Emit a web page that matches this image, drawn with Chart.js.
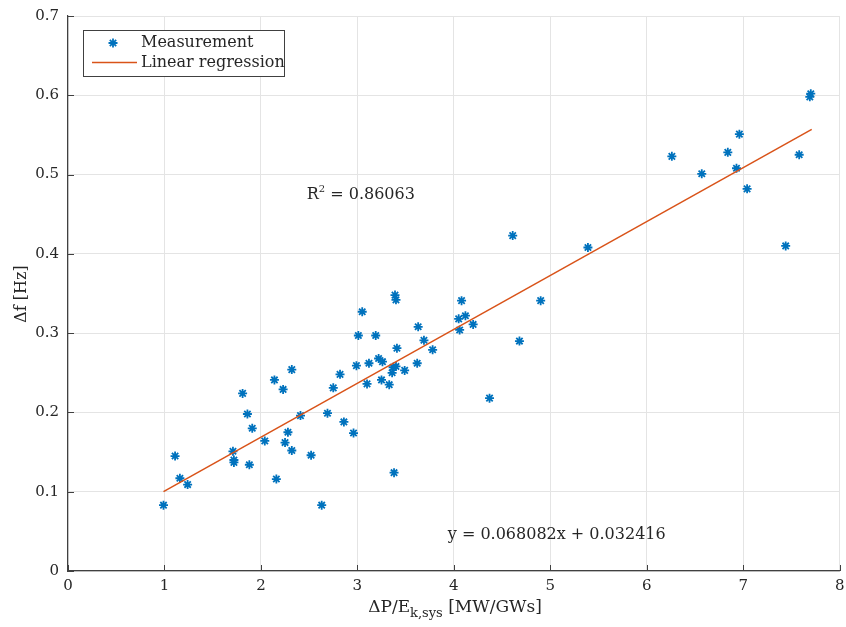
<!DOCTYPE html>
<html>
<head>
<meta charset="utf-8">
<script src="https://cdn.jsdelivr.net/npm/chart.js@4.4.1/dist/chart.umd.min.js"></script>
<style>
  body { margin: 0; background: #fff; }
  #chartContainer { width: 846px; height: 627px; }
</style>
</head>
<body>
<div id="chartContainer"><canvas id="freqChart" width="846" height="627"></canvas></div>
<script>
const measX = [0.99, 1.11, 1.16, 1.24, 1.71, 1.72, 1.72, 1.81, 1.86, 1.88, 1.91, 2.04, 2.14, 2.16, 2.23,
    2.25, 2.28, 2.32, 2.32, 2.41, 2.52, 2.63, 2.69, 2.75, 2.82, 2.86, 2.96, 2.99, 3.01, 3.05,
    3.10, 3.12, 3.19, 3.22, 3.25, 3.26, 3.33, 3.37, 3.36, 3.38, 3.39, 3.40, 3.40, 3.41, 3.49,
    3.62, 3.63, 3.69, 3.78, 4.05, 4.06, 4.08, 4.12, 4.20, 4.37, 4.61, 4.68, 4.90, 5.39, 6.26,
    6.57, 6.84, 6.93, 6.96, 7.04, 7.44, 7.58, 7.69, 7.70];
const measY = [0.083, 0.145, 0.117, 0.109, 0.151, 0.140, 0.137, 0.224, 0.198, 0.134, 0.180, 0.164, 0.241, 0.116, 0.229,
    0.162, 0.175, 0.254, 0.152, 0.196, 0.146, 0.083, 0.199, 0.231, 0.248, 0.188, 0.174, 0.259, 0.297, 0.327,
    0.236, 0.262, 0.297, 0.268, 0.241, 0.264, 0.235, 0.257, 0.250, 0.124, 0.348, 0.342, 0.258, 0.281, 0.253,
    0.262, 0.308, 0.291, 0.279, 0.318, 0.304, 0.341, 0.322, 0.311, 0.218, 0.423, 0.290, 0.341, 0.408, 0.523,
    0.501, 0.528, 0.508, 0.551, 0.482, 0.410, 0.525, 0.598, 0.602];

// Regression line end points
const fitX = [0.99, 7.71];
const fitY = [0.100, 0.557];

const xTicks = [0, 1, 2, 3, 4, 5, 6, 7, 8];
const yTicks = [0, 0.1, 0.2, 0.3, 0.4, 0.5, 0.6, 0.7];
const yTickLabels = ["0", "0.1", "0.2", "0.3", "0.4", "0.5", "0.6", "0.7"];

const rSquared = "0.86063";
const fitEquation = "y = 0.068082x + 0.032416";

const serif = '"DejaVu Serif", "Liberation Serif", serif';
const blue = "#0072BD";
const orange = "#D95319";
const textColor = "#262626";

Chart.defaults.font.family = serif;

// Extra drawing: inward ticks, titles, legend box and text notes
const extrasPlugin = {
    id: "extras",
    afterDraw(chart) {
        const ctx = chart.ctx;
        const area = chart.chartArea;
        const xs = chart.scales.x;
        const ys = chart.scales.y;
        ctx.save();

        // inward tick marks
        ctx.strokeStyle = "#404040";
        ctx.lineWidth = 1;
        ctx.beginPath();
        xTicks.forEach(v => {
            const px = Math.round(xs.getPixelForValue(v)) + 0.5;
            ctx.moveTo(px, area.bottom);
            ctx.lineTo(px, area.bottom - 6);
        });
        yTicks.forEach(v => {
            const py = Math.round(ys.getPixelForValue(v)) + 0.5;
            ctx.moveTo(area.left, py);
            ctx.lineTo(area.left + 6, py);
        });
        ctx.stroke();

        ctx.fillStyle = textColor;
        ctx.textBaseline = "alphabetic";

        // y axis title
        ctx.save();
        ctx.translate(26, 294);
        ctx.rotate(-Math.PI / 2);
        ctx.textAlign = "center";
        ctx.font = "16px " + serif;
        ctx.fillText("\u0394f [Hz]", 0, 0);
        ctx.restore();

        // x axis title with subscript
        ctx.textAlign = "left";
        const big = "17px " + serif;
        const small = "13px " + serif;
        ctx.font = big;
        const p1 = "\u0394P/E";
        const p3 = " [MW/GWs]";
        const w1 = ctx.measureText(p1).width;
        const w3 = ctx.measureText(p3).width;
        ctx.font = small;
        const p2 = "k,sys";
        const w2 = ctx.measureText(p2).width;
        let tx = 455 - (w1 + w2 + w3) / 2;
        const ty = 612;
        ctx.font = big;
        ctx.fillText(p1, tx, ty);
        tx += w1;
        ctx.font = small;
        ctx.fillText(p2, tx, ty + 5);
        tx += w2;
        ctx.font = big;
        ctx.fillText(p3, tx, ty);

        // R squared note
        let rx = xs.getPixelForValue(2.475);
        const ry = ys.getPixelForValue(0.4696);
        ctx.font = "16px " + serif;
        ctx.fillText("R", rx, ry);
        rx += ctx.measureText("R").width;
        ctx.font = "10px " + serif;
        ctx.fillText("2", rx, ry - 7);
        rx += ctx.measureText("2").width;
        ctx.font = "16px " + serif;
        ctx.fillText(" = " + rSquared, rx, ry);

        // equation note (right aligned)
        ctx.textAlign = "right";
        ctx.font = "16px " + serif;
        ctx.fillText(fitEquation, xs.getPixelForValue(6.196), ys.getPixelForValue(0.0403));
        ctx.textAlign = "left";

        // legend box
        ctx.fillStyle = "#fff";
        ctx.fillRect(83, 30, 201, 46);
        ctx.strokeStyle = "#404040";
        ctx.lineWidth = 1;
        ctx.strokeRect(83.5, 30.5, 201, 46);

        ctx.strokeStyle = blue;
        ctx.fillStyle = blue;
        ctx.lineWidth = 1.8;
        Chart.helpers.drawPoint(ctx, { pointStyle: "star", radius: 4.5, rotation: 0, borderWidth: 1.8 }, 113, 43);

        ctx.strokeStyle = orange;
        ctx.lineWidth = 1.5;
        ctx.beginPath();
        ctx.moveTo(92, 62.5);
        ctx.lineTo(137, 62.5);
        ctx.stroke();

        ctx.fillStyle = textColor;
        ctx.font = "16px " + serif;
        ctx.textBaseline = "middle";
        ctx.fillText("Measurement", 141, 43);
        ctx.fillText("Linear regression", 141, 63);

        ctx.restore();
    }
};

const data = {
    datasets: [
        {
            label: "Linear regression",
            data: fitX.map((x, i) => ({ x: x, y: fitY[i] })),
            showLine: true,
            borderColor: orange,
            borderWidth: 1.5,
            pointRadius: 0,
            fill: false,
            order: 0
        },
        {
            label: "Measurement",
            data: measX.map((x, i) => ({ x: x, y: measY[i] })),
            pointStyle: "star",
            pointRadius: 4.5,
            borderColor: blue,
            backgroundColor: blue,
            pointBorderWidth: 1.8,
            showLine: false,
            order: 1
        }
    ]
};

const options = {
    responsive: false,
    animation: false,
    layout: { padding: { top: 16, right: 1, left: 0, bottom: 0 } },
    plugins: {
        legend: { display: false },
        tooltip: { enabled: false }
    },
    scales: {
        x: {
            type: "linear",
            min: 0,
            max: 8,
            afterBuildTicks: s => { s.ticks = xTicks.map(v => ({ value: v })); },
            afterFit: s => { s.height = 56; s.paddingLeft = 0; s.paddingRight = 0; },
            ticks: {
                color: textColor,
                font: { size: 15 },
                padding: 6,
                callback: v => String(v)
            },
            grid: { color: "#e4e4e4", drawTicks: false },
            border: { color: "#404040", width: 1.2 }
        },
        y: {
            type: "linear",
            min: 0,
            max: 0.7,
            afterBuildTicks: s => { s.ticks = yTicks.map(v => ({ value: v })); },
            afterFit: s => { s.width = 68; s.paddingTop = 0; s.paddingBottom = 0; },
            ticks: {
                color: textColor,
                font: { size: 15 },
                padding: 9,
                callback: (v, i) => yTickLabels[i]
            },
            grid: { color: "#e4e4e4", drawTicks: false },
            border: { color: "#404040", width: 1.2 }
        }
    }
};

const ctx = document.getElementById("freqChart").getContext("2d");
new Chart(ctx, {
    type: "scatter",
    data: data,
    options: options,
    plugins: [extrasPlugin]
});
</script>
</body>
</html>
